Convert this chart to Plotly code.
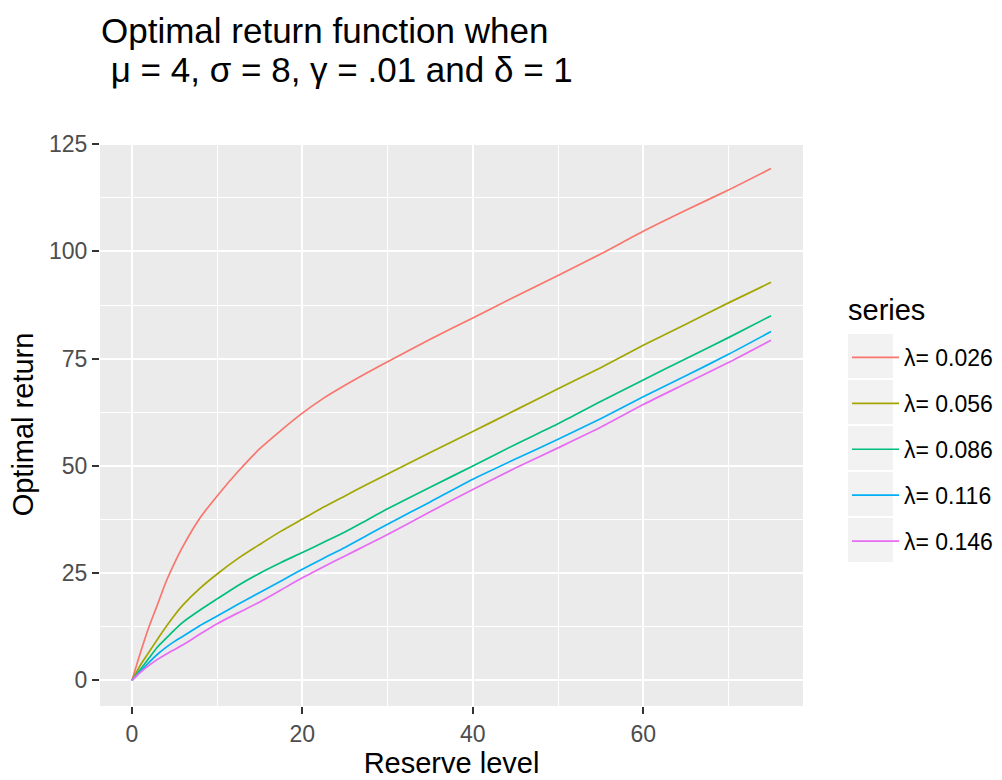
import plotly.graph_objects as go

# Reserve levels at which the optimal return was evaluated
reserve = [0, 1, 2, 3, 4, 5, 6, 8, 10, 12.5, 15, 17.5, 20, 22.5, 25, 27.5, 30, 35, 40, 45,
           50, 55, 60, 65, 70, 75]

# Optimal return for each claim intensity lambda
ret_026 = [0, 6.5, 12.5, 17.7, 23.0, 27.4, 31.3, 37.9, 43.0, 48.8, 54.0, 58.3, 62.3, 65.8,
           68.8, 71.6, 74.3, 79.5, 84.5, 89.5, 94.4, 99.4, 104.7, 109.6, 114.3, 119.3]
ret_056 = [0, 3.6, 6.6, 9.6, 12.5, 15.2, 17.6, 21.5, 24.8, 28.5, 31.7, 34.8, 37.6, 40.4,
           43.0, 45.6, 48.1, 53.1, 58.0, 63.0, 68.0, 72.9, 78.1, 83.0, 88.0, 92.8]
ret_086 = [0, 2.6, 5.2, 7.8, 9.8, 11.8, 13.6, 16.4, 19.0, 22.2, 25.0, 27.5, 29.8, 32.2,
           34.6, 37.3, 40.0, 45.0, 50.0, 55.0, 59.8, 65.0, 70.0, 75.0, 79.9, 85.0]
ret_116 = [0, 2.1, 4.2, 6.1, 7.7, 9.1, 10.3, 12.8, 15.0, 17.8, 20.5, 23.2, 25.9, 28.5,
           31.0, 33.7, 36.4, 41.6, 46.9, 51.6, 56.2, 61.0, 66.1, 71.0, 76.0, 81.3]
ret_146 = [0, 1.9, 3.5, 4.9, 6.1, 7.2, 8.3, 10.8, 13.2, 15.8, 18.3, 21.1, 23.9, 26.5,
           29.0, 31.5, 34.0, 39.3, 44.5, 49.5, 54.2, 59.0, 64.3, 69.2, 74.1, 79.3]

series_names = ["λ= 0.026", "λ= 0.056", "λ= 0.086", "λ= 0.116", "λ= 0.146"]
series_values = [ret_026, ret_056, ret_086, ret_116, ret_146]
colors = ["#F8766D", "#A3A500", "#00BF7D", "#00B0F6", "#E76BF3"]

x_ticks = [0, 20, 40, 60]
y_ticks = [0, 25, 50, 75, 100, 125]

FONT = "Liberation Sans, Arial, sans-serif"
W, H = 1002, 780
ML, MR, MT, MB = 100, 199, 143, 74

fig = go.Figure()
for name, vals, col in zip(series_names, series_values, colors):
    fig.add_trace(go.Scatter(
        x=reserve, y=vals, name=name, mode="lines", legendgroup=name,
        line=dict(color=col, width=1.7, shape="spline", smoothing=0.6),
    ))

ymax = max(max(v) for v in series_values)
xmax = max(reserve)


def px_to_paper_x(px):
    return (px - ML) / (W - ML - MR)


def px_to_paper_y(py):
    return (H - MB - py) / (H - MT - MB)


# grey key backgrounds behind the legend entries
shapes = []
for i in range(len(series_names)):
    top = 334 + i * 46
    shapes.append(dict(
        type="rect", xref="paper", yref="paper", layer="below",
        x0=px_to_paper_x(848), x1=px_to_paper_x(893),
        y0=px_to_paper_y(top + 44), y1=px_to_paper_y(top),
        fillcolor="#F2F2F2", line=dict(width=0),
    ))

annotations = [
    dict(text="Optimal return function when", xref="paper", yref="paper",
         x=px_to_paper_x(99), y=px_to_paper_y(31), xanchor="left", yanchor="middle",
         showarrow=False, font=dict(size=35, color="black", family=FONT)),
    dict(text=" μ = 4, σ = 8, γ = .01 and δ = 1", xref="paper", yref="paper",
         x=px_to_paper_x(99), y=px_to_paper_y(70), xanchor="left", yanchor="middle",
         showarrow=False, font=dict(size=35, color="black", family=FONT)),
    dict(text="series", xref="paper", yref="paper",
         x=px_to_paper_x(846), y=px_to_paper_y(310), xanchor="left", yanchor="middle",
         showarrow=False, font=dict(size=29, color="black", family=FONT)),
]

axis_common = dict(
    showgrid=True, gridcolor="white", gridwidth=2.2,
    zeroline=False, showline=False,
    ticks="outside", ticklen=7, tickwidth=2, tickcolor="#333333",
    tickfont=dict(size=23, color="#4D4D4D", family=FONT),
    minor=dict(showgrid=True, gridcolor="white", gridwidth=1.1),
)

fig.update_layout(
    width=W, height=H,
    margin=dict(l=ML, r=MR, t=MT, b=MB, autoexpand=False),
    paper_bgcolor="white", plot_bgcolor="#EBEBEB",
    font=dict(family=FONT, color="black"),
    showlegend=True,
    legend=dict(
        font=dict(size=23, color="black", family=FONT),
        x=px_to_paper_x(847), xanchor="left",
        y=px_to_paper_y(336), yanchor="top",
        bgcolor="rgba(0,0,0,0)", itemwidth=47, tracegroupgap=13,
    ),
    shapes=shapes,
    annotations=annotations,
)

fig.update_xaxes(
    **axis_common,
    range=[-0.05 * xmax, 1.05 * xmax],
    tickvals=x_ticks,
    minor_tickvals=[10, 30, 50, 70],
    title=dict(text="Reserve level", font=dict(size=29, color="black", family=FONT), standoff=6),
)
fig.update_yaxes(
    **axis_common,
    range=[-0.05 * ymax, 1.05 * ymax],
    tickvals=y_ticks,
    minor_tickvals=[12.5, 37.5, 62.5, 87.5, 112.5],
    title=dict(text="Optimal return", font=dict(size=29, color="black", family=FONT), standoff=6),
)

fig.write_html("out.html")
